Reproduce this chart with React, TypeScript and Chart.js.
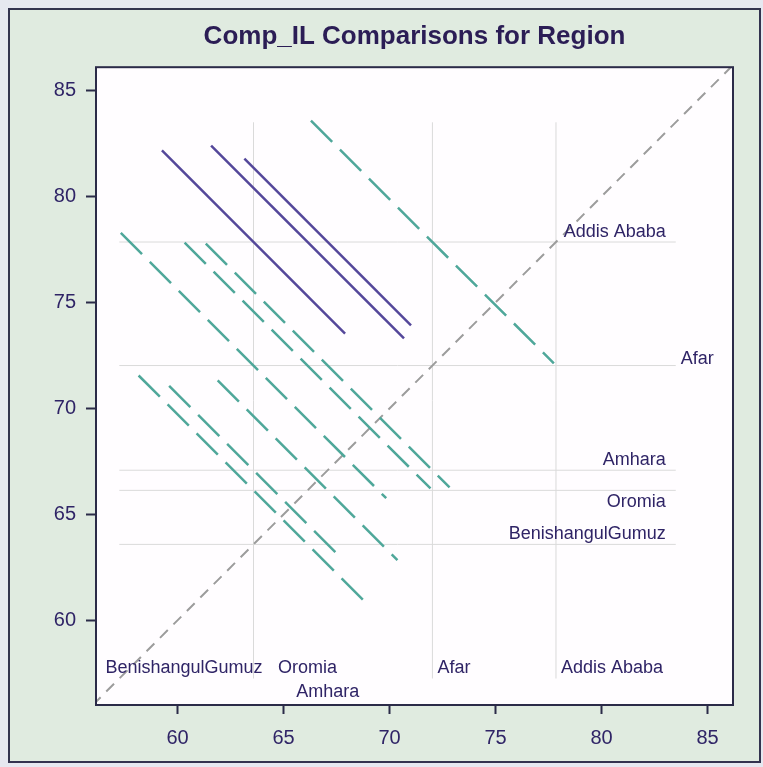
import React, { useEffect, useRef } from 'react';
import { Chart, registerables } from 'chart.js';

Chart.register(...registerables);

// ---- data ----
const regions = ['Addis Ababa', 'Afar', 'Amhara', 'Oromia', 'BenishangulGumuz'];
const lsMeans = [77.85, 72.02, 67.08, 66.13, 63.58];
// pairwise comparisons: row region (y) vs column region (x)
const pairRowRegion = [0, 0, 0, 0, 1, 1, 1, 2, 2, 3];
const pairColRegion = [1, 2, 3, 4, 2, 3, 4, 3, 4, 4];
const pairHalfWidth = [5.73, 3.93, 4.55, 4.32, 5.75, 5.8, 6.26, 4.24, 3.98, 5.42];
const pairSignificant = [false, true, true, true, false, false, false, false, false, false];
const axisTicks = [60, 65, 70, 75, 80, 85];
const xAxisRange = [56.15, 86.2];
const yAxisRange = [56.0, 86.1];
const refLineSpan = [57.25, 83.5];
const verticalRefRegions = [0, 1, 4];
const horizontalRefRegions = [0, 1, 2, 3, 4];
const titleText = 'Comp_IL Comparisons for Region';

// ---- styles ----
const FONT = '"Liberation Sans", Arial, sans-serif';
const TEXT_COLOR = '#2f2466';
const SIG_COLOR = '#54479a';
const NONSIG_COLOR = '#4fa79a';
const REF_COLOR = '#dadada';
const DIAG_COLOR = '#9c9c9c';
// placement of group labels (pixel offsets)
const bottomLabelStyle = [
  { align: 'left', dx: 5, dy: -37 },
  { align: 'left', dx: 5, dy: -37 },
  { align: 'center', dx: 0, dy: -13 },
  { align: 'center', dx: 0, dy: -37 },
  { align: 'right', dx: 9, dy: -37 },
];
const rightLabelStyle = [
  { align: 'right', dx: -10, dy: -10 },
  { align: 'left', dx: 5, dy: -7 },
  { align: 'right', dx: -10, dy: -10 },
  { align: 'right', dx: -10, dy: 12 },
  { align: 'right', dx: -10, dy: -10 },
];

const decorPlugin = {
  id: 'decor',
  beforeDraw(chart: any) {
    const { ctx, width, height, chartArea } = chart;
    ctx.save();
    ctx.fillStyle = '#e6e8f0';
    ctx.fillRect(0, 0, width, height);
    ctx.fillStyle = '#e0ebe0';
    ctx.fillRect(9, 9, 751, 753);
    ctx.strokeStyle = '#33334f';
    ctx.lineWidth = 2;
    ctx.strokeRect(9, 9, 751, 753);
    ctx.fillStyle = '#fffdff';
    ctx.fillRect(chartArea.left, chartArea.top, chartArea.right - chartArea.left, chartArea.bottom - chartArea.top);
    ctx.restore();
  },
  afterDraw(chart: any) {
    const { ctx, chartArea, scales } = chart;
    const xs = scales.x;
    const ys = scales.y;
    ctx.save();
    ctx.strokeStyle = '#2b2b48';
    ctx.lineWidth = 2;
    ctx.strokeRect(chartArea.left, chartArea.top, chartArea.right - chartArea.left, chartArea.bottom - chartArea.top);
    ctx.font = '18px ' + FONT;
    ctx.fillStyle = TEXT_COLOR;
    ctx.textBaseline = 'middle';
    verticalRefRegions.forEach((ri) => {
      const st = bottomLabelStyle[ri];
      ctx.textAlign = st.align;
      ctx.fillText(regions[ri], xs.getPixelForValue(lsMeans[ri]) + st.dx, chartArea.bottom + st.dy);
    });
    // Oromia and Amhara bottom labels too
    [2, 3].forEach((ri) => {
      const st = bottomLabelStyle[ri];
      ctx.textAlign = st.align;
      ctx.fillText(regions[ri], xs.getPixelForValue(lsMeans[ri]) + st.dx, chartArea.bottom + st.dy);
    });
    const endPx = xs.getPixelForValue(refLineSpan[1]);
    horizontalRefRegions.forEach((ri) => {
      const st = rightLabelStyle[ri];
      ctx.textAlign = st.align;
      ctx.fillText(regions[ri], endPx + st.dx, ys.getPixelForValue(lsMeans[ri]) + st.dy);
    });
    ctx.restore();
  },
};

export default function App() {
  const canvasRef = useRef<HTMLCanvasElement | null>(null);

  useEffect(() => {
    const canvas = canvasRef.current;
    if (!canvas) return;

    const datasets: any[] = [];
    // comparison segments
    pairRowRegion.forEach((r, i) => {
      const c = pairColRegion[i];
      const h = pairHalfWidth[i];
      const mx = lsMeans[c];
      const my = lsMeans[r];
      const sig = pairSignificant[i];
      datasets.push({
        data: [
          { x: mx - h, y: my + h },
          { x: mx + h, y: my - h },
        ],
        showLine: true,
        borderColor: sig ? SIG_COLOR : NONSIG_COLOR,
        borderWidth: 2.5,
        borderDash: sig ? [] : [30, 11],
        pointRadius: 0,
        order: 1,
      });
    });
    // diagonal
    datasets.push({
      data: [
        { x: yAxisRange[0], y: yAxisRange[0] },
        { x: xAxisRange[1], y: xAxisRange[1] },
      ],
      showLine: true,
      borderColor: DIAG_COLOR,
      borderWidth: 2,
      borderDash: [11, 8],
      pointRadius: 0,
      order: 2,
    });
    // reference lines
    horizontalRefRegions.forEach((ri) => {
      datasets.push({
        data: [
          { x: refLineSpan[0], y: lsMeans[ri] },
          { x: refLineSpan[1], y: lsMeans[ri] },
        ],
        showLine: true,
        borderColor: REF_COLOR,
        borderWidth: 1,
        pointRadius: 0,
        order: 3,
      });
    });
    verticalRefRegions.forEach((ri) => {
      datasets.push({
        data: [
          { x: lsMeans[ri], y: refLineSpan[0] },
          { x: lsMeans[ri], y: refLineSpan[1] },
        ],
        showLine: true,
        borderColor: REF_COLOR,
        borderWidth: 1,
        pointRadius: 0,
        order: 3,
      });
    });

    const tickFont = { family: FONT, size: 20 };
    const chart = new Chart(canvas, {
      type: 'scatter',
      data: { datasets },
      options: {
        responsive: false,
        animation: false,
        devicePixelRatio: 1,
        layout: { padding: { left: 0, right: 30, top: 0, bottom: 0 } },
        plugins: {
          legend: { display: false },
          tooltip: { enabled: false },
          title: {
            display: true,
            text: titleText,
            fullSize: false,
            color: '#2b1d55',
            font: { family: FONT, size: 26, weight: 'bold', lineHeight: 1.2 },
            padding: { top: 21, bottom: 15 },
          },
        },
        scales: {
          x: {
            type: 'linear',
            position: 'bottom',
            min: xAxisRange[0],
            max: xAxisRange[1],
            afterBuildTicks: (scale: any) => {
              scale.ticks = axisTicks.map((v) => ({ value: v }));
            },
            afterFit: (scale: any) => {
              scale.height = 62;
            },
            border: { display: false },
            grid: {
              drawOnChartArea: false,
              drawTicks: true,
              tickLength: 9,
              tickWidth: 2,
              tickColor: '#2b2b48',
            },
            ticks: { font: tickFont, color: TEXT_COLOR, padding: 12, maxRotation: 0 },
          },
          y: {
            type: 'linear',
            position: 'left',
            min: yAxisRange[0],
            max: yAxisRange[1],
            afterBuildTicks: (scale: any) => {
              scale.ticks = axisTicks.map((v) => ({ value: v }));
            },
            afterFit: (scale: any) => {
              scale.width = 96;
            },
            border: { display: false },
            grid: {
              drawOnChartArea: false,
              drawTicks: true,
              tickLength: 10,
              tickWidth: 2,
              tickColor: '#2b2b48',
            },
            ticks: { font: tickFont, color: TEXT_COLOR, padding: 10 },
          },
        },
      },
      plugins: [decorPlugin],
    } as any);

    return () => chart.destroy();
  }, []);

  return (
    <div style={{ position: 'fixed', left: 0, top: 0, width: 763, height: 767 }}>
      <canvas ref={canvasRef} width={763} height={767} style={{ width: 763, height: 767, display: 'block' }} />
    </div>
  );
}
